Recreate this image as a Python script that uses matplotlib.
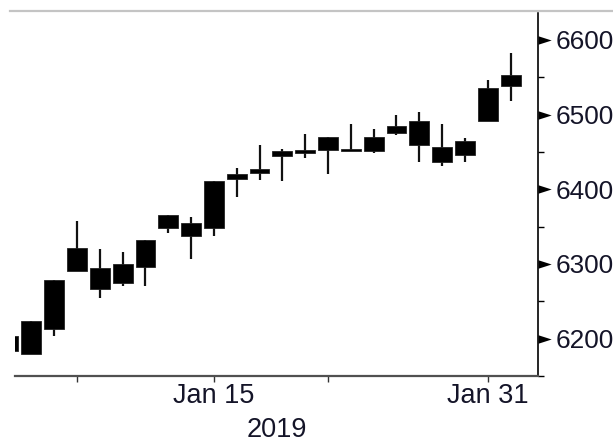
import matplotlib
matplotlib.use('Agg')
import matplotlib.pyplot as plt
from matplotlib.lines import Line2D
from matplotlib import transforms

# trading days, Jan 2 - Feb 1 2019
dates = ['2019-01-02', '2019-01-03', '2019-01-04', '2019-01-07', '2019-01-08',
         '2019-01-09', '2019-01-10', '2019-01-11', '2019-01-14', '2019-01-15',
         '2019-01-16', '2019-01-17', '2019-01-18', '2019-01-21', '2019-01-22',
         '2019-01-23', '2019-01-24', '2019-01-25', '2019-01-28', '2019-01-29',
         '2019-01-30', '2019-01-31', '2019-02-01']
opens = [6203, 6179, 6213, 6322, 6295, 6274, 6296, 6348, 6355, 6348, 6414, 6422,
         6444, 6448, 6453, 6454, 6451, 6475, 6492, 6457, 6446, 6492, 6538]
closes = [6183, 6223, 6278, 6290, 6266, 6300, 6332, 6365, 6338, 6411, 6420, 6427,
          6451, 6453, 6470, 6451, 6470, 6485, 6459, 6437, 6465, 6535, 6553]
highs = [6203, 6223, 6278, 6357, 6320, 6316, 6332, 6365, 6363, 6411, 6429, 6459,
         6454, 6474, 6470, 6488, 6481, 6500, 6503, 6487, 6468, 6546, 6583]
lows = [6183, 6179, 6204, 6290, 6254, 6270, 6271, 6342, 6307, 6337, 6389, 6413,
        6411, 6442, 6420, 6451, 6448, 6472, 6437, 6431, 6437, 6492, 6518]

major_idx = [9, 21]          # labelled days
minor_idx = [3, 14]
major_labels = ['Jan 15', 'Jan 31']
y_ticks = [6200, 6300, 6400, 6500, 6600]
y_minor = [6150, 6250, 6350, 6450, 6550]

txt_color = '#141428'
plt.rcParams['font.family'] = ['Liberation Sans', 'DejaVu Sans']
plt.rcParams['font.size'] = 19.5

fig = plt.figure(figsize=(6.13, 4.46), dpi=100)
ax = fig.add_axes([15 / 613, 70 / 446, 523 / 613, 363 / 446])

x = list(range(len(dates)))
body_lo = [min(o, c) for o, c in zip(opens, closes)]
body_h = [abs(c - o) for o, c in zip(opens, closes)]

# wicks then bodies
ax.vlines(x, lows, highs, color='#111111', linewidth=1.6, zorder=2)
ax.bar(x, body_h, bottom=body_lo, width=0.87, color='black',
       edgecolor='#222222', linewidth=0.6, zorder=3)

ax.set_xlim(0.285, 23.2)
ax.set_ylim(6150.6, 6636)

# spines
for s in ['top', 'left']:
    ax.spines[s].set_visible(False)
ax.spines['bottom'].set_color('#505050')
ax.spines['bottom'].set_linewidth(1.6)
ax.spines['right'].set_color('black')
ax.spines['right'].set_linewidth(1.2)

# x axis
ax.set_xticks(major_idx)
ax.set_xticklabels(major_labels, color=txt_color)
ax.set_xticks(minor_idx, minor=True)
ax.tick_params(axis='x', which='both', direction='out', length=4, width=1,
               color='#333333', pad=1)
ax.set_xlabel('2019', color=txt_color, labelpad=6)

# y axis on right
ax.yaxis.tick_right()
ax.set_yticks(y_ticks)
ax.set_yticklabels([str(v) for v in y_ticks], color=txt_color, fontsize=18.8)
ax.set_yticks(y_minor, minor=True)
ax.tick_params(axis='y', which='major', length=0, pad=12.5)
ax.tick_params(axis='y', which='minor', direction='out', length=4, width=1,
               color='black')

# wedge markers on major y ticks, base sitting on the spine
wedge = [(0, -0.32), (0, 0.32), (1, 0), (0, -0.32)]
trans = transforms.blended_transform_factory(ax.transAxes, ax.transData)
ax.plot([1.0] * len(y_ticks), y_ticks, linestyle='none', marker=wedge,
        markersize=19, color='black', markeredgewidth=0, transform=trans,
        clip_on=False)

# grey rule across the top
fig.add_artist(Line2D([10 / 613, 1.0], [1 - 11 / 446, 1 - 11 / 446],
                      color='#c4c4c4', linewidth=1.6))

fig.savefig('out.png', dpi=100)
